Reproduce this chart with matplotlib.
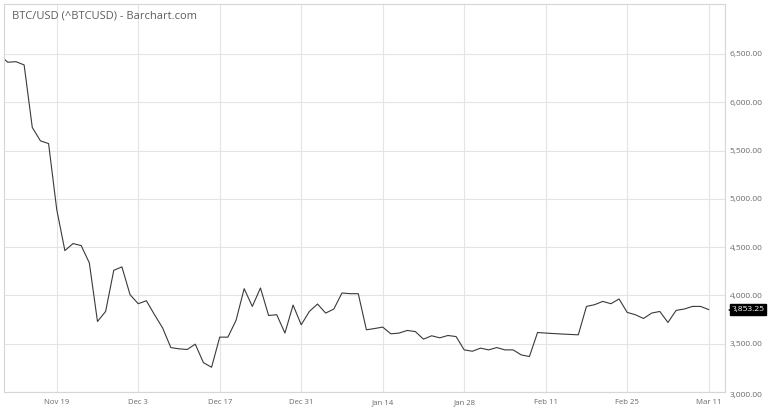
import matplotlib
matplotlib.use("Agg")
import matplotlib.pyplot as plt
import matplotlib.transforms as mtransforms
import numpy as np
import pandas as pd

# daily closes (weekdays only), Nov 8 2018 .. Mar 11 2019
start_date = "2018-11-08"
end_date = "2019-03-11"
prices = [
    6486, 6414, 6420, 6386, 5739, 5600, 5572, 4890, 4464, 4537,
    4516, 4337, 3730, 3834, 4260, 4295, 4007, 3914, 3945, 3800,
    3662, 3460, 3447, 3440, 3495, 3304, 3256, 3568, 3568, 3741,
    4070, 3886, 4077, 3792, 3800, 3610, 3900, 3696, 3834, 3911,
    3817, 3859, 4025, 4018, 4018, 3644, 3657, 3672, 3602, 3610,
    3637, 3626, 3547, 3582, 3561, 3585, 3574, 3436, 3422, 3454,
    3436, 3460, 3436, 3436, 3384, 3367, 3616, 3610, 3605, 3600,
    3596, 3592, 3886, 3904, 3938, 3914, 3963, 3824, 3800, 3761,
    3817, 3834, 3720, 3845, 3859, 3886, 3886, 3853.25,
]
tick_dates = ["2018-11-19", "2018-12-03", "2018-12-17", "2018-12-31", "2019-01-14",
              "2019-01-28", "2019-02-11", "2019-02-25", "2019-03-11"]
tick_labels = ["Nov 19", "Dec 3", "Dec 17", "Dec 31", "Jan 14",
               "Jan 28", "Feb 11", "Feb 25", "Mar 11"]
y_ticks = [3000, 3500, 4000, 4500, 5000, 5500, 6000, 6500]

plt.rcParams['font.family'] = ['Open Sans', 'DejaVu Sans']

dates = pd.bdate_range(start_date, end_date)
x = np.arange(len(dates))
tick_pos = [dates.get_loc(pd.Timestamp(d)) for d in tick_dates]

fig = plt.figure(figsize=(7.68, 4.12), dpi=100)
ax = fig.add_axes([4 / 768, 20 / 412, 721 / 768, 388 / 412])

ax.plot(x, prices, color='#3a3a3a', lw=0.8)

ax.set_xlim(0.53, 89.0)
ax.set_ylim(3000, 7017)

grid_c = '#e4e4e4'
ax.set_xticks(tick_pos, tick_labels)
ax.set_yticks(y_ticks, [f'{v:,.2f}' for v in y_ticks])
ax.yaxis.tick_right()
ax.tick_params(axis='both', length=0, labelcolor='#6a6a6a')
ax.tick_params(axis='x', pad=5, labelsize=5.6)
ax.tick_params(axis='y', pad=3.5, labelsize=6)
ax.get_yticklabels()[0].set_verticalalignment('top')
ax.grid(True, color=grid_c, lw=0.8)
for s in ax.spines.values():
    s.set_color('#d6d6d6')
    s.set_linewidth(0.8)

ax.text(8 / 721, (392 - 16) / 388, 'BTC/USD (^BTCUSD) - Barchart.com',
        transform=ax.transAxes, fontsize=8, color='#5e5e5e', va='center', ha='left')

# last value tag on the right axis
last = prices[-1]
blend = mtransforms.blended_transform_factory(ax.transAxes, ax.transData)
tag_tr = mtransforms.offset_copy(blend, fig=fig, x=5, y=0, units='points')
ax.text(1.0, last, f'{last:,.2f}', transform=tag_tr, fontsize=6, color='white',
        va='center', ha='left', clip_on=False,
        bbox=dict(boxstyle='square,pad=0.2', fc='black', ec='black'))
arr_tr = mtransforms.offset_copy(blend, fig=fig, x=4.3, y=0, units='points')
ax.plot([1.0], [last], marker='<', ms=4.5, color='black', mew=0,
        transform=arr_tr, clip_on=False, zorder=5)

fig.savefig('out.png', dpi=100)
